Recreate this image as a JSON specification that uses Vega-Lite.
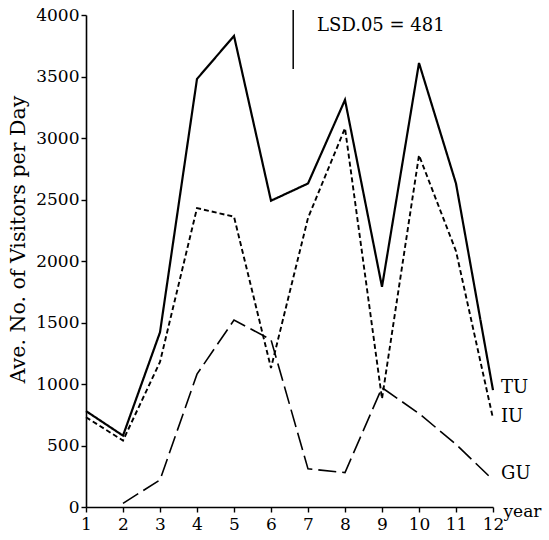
{
  "$schema": "https://vega.github.io/schema/vega-lite/v6.json",
  "width": 407,
  "height": 492,
  "autosize": {"type": "none"},
  "padding": {"left": 86, "top": 15, "right": 56, "bottom": 33},
  "background": "white",
  "config": {
    "view": {"stroke": null},
    "font": "DejaVu Serif",
    "axis": {"grid": false, "domainColor": "black", "tickColor": "black", "labelColor": "black", "titleColor": "black", "domainWidth": 1.6, "tickWidth": 1.4, "labelFont": "DejaVu Serif", "titleFont": "DejaVu Serif", "titleFontWeight": "normal"}
  },
  "datasets": {
    "series": [
      {"year": 1, "series": "TU", "value": 780},
      {"year": 2, "series": "TU", "value": 580},
      {"year": 3, "series": "TU", "value": 1420},
      {"year": 4, "series": "TU", "value": 3480},
      {"year": 5, "series": "TU", "value": 3830},
      {"year": 6, "series": "TU", "value": 2490},
      {"year": 7, "series": "TU", "value": 2630},
      {"year": 8, "series": "TU", "value": 3310},
      {"year": 9, "series": "TU", "value": 1790},
      {"year": 10, "series": "TU", "value": 3610},
      {"year": 11, "series": "TU", "value": 2630},
      {"year": 12, "series": "TU", "value": 950},
      {"year": 1, "series": "IU", "value": 730},
      {"year": 2, "series": "IU", "value": 540},
      {"year": 3, "series": "IU", "value": 1180},
      {"year": 4, "series": "IU", "value": 2430},
      {"year": 5, "series": "IU", "value": 2360},
      {"year": 6, "series": "IU", "value": 1130},
      {"year": 7, "series": "IU", "value": 2350},
      {"year": 8, "series": "IU", "value": 3080},
      {"year": 9, "series": "IU", "value": 880},
      {"year": 10, "series": "IU", "value": 2860},
      {"year": 11, "series": "IU", "value": 2080},
      {"year": 12, "series": "IU", "value": 720},
      {"year": 2, "series": "GU", "value": 30},
      {"year": 3, "series": "GU", "value": 220},
      {"year": 4, "series": "GU", "value": 1080},
      {"year": 5, "series": "GU", "value": 1520},
      {"year": 6, "series": "GU", "value": 1360},
      {"year": 7, "series": "GU", "value": 310},
      {"year": 8, "series": "GU", "value": 280},
      {"year": 9, "series": "GU", "value": 970},
      {"year": 10, "series": "GU", "value": 760},
      {"year": 11, "series": "GU", "value": 510},
      {"year": 12, "series": "GU", "value": 220}
    ],
    "labels": [
      {"year": 12, "value": 965, "text": "TU"},
      {"year": 12, "value": 730, "text": "IU"},
      {"year": 12, "value": 270, "text": "GU"},
      {"year": 7.03, "value": 3910, "text": "LSD.05 = 481"}
    ],
    "lsd": [
      {"year": 6.6, "value": 3560, "value2": 4041}
    ]
  },
  "encoding": {
    "x": {"field": "year", "type": "quantitative", "scale": {"domain": [1, 12], "nice": false},
      "axis": {"values": [1,2,3,4,5,6,7,8,9,10,11,12], "title": "year", "titleFontSize": 17, "titleAngle": 0, "titleX": 417, "titleY": 4, "titleAlign": "left", "titleBaseline": "middle", "labelFontSize": 17, "labelPadding": 4, "tickSize": 5, "labelFlush": false, "labelOverlap": false, "labelBound": false}},
    "y": {"field": "value", "type": "quantitative", "scale": {"domain": [0, 4000], "nice": false},
      "axis": {"values": [0,500,1000,1500,2000,2500,3000,3500,4000], "format": "d", "title": "Ave. No. of Visitors per Day", "titleFontSize": 20.5, "titleAngle": -90, "titleX": -68, "titleY": 224, "titleAlign": "center", "titleBaseline": "middle", "labelFontSize": 17, "tickSize": 5, "labelPadding": 2}}
  },
  "layer": [
    {
      "data": {"name": "series"},
      "mark": {"type": "line", "color": "black"},
      "encoding": {
        "detail": {"field": "series"},
        "strokeDash": {"field": "series", "type": "nominal", "scale": {"domain": ["TU", "IU", "GU"], "range": [[1, 0], [5, 3], [18, 6]]}, "legend": null},
        "strokeWidth": {"field": "series", "type": "nominal", "scale": {"domain": ["TU", "IU", "GU"], "range": [2.2, 1.6, 1.6]}, "legend": null}
      }
    },
    {
      "data": {"name": "lsd"},
      "mark": {"type": "rule", "color": "black", "strokeWidth": 1.5},
      "encoding": {
        "y2": {"field": "value2"}
      }
    },
    {
      "data": {"name": "labels"},
      "mark": {"type": "text", "align": "left", "baseline": "middle", "fontSize": 18, "dx": 8, "color": "black"},
      "encoding": {
        "text": {"field": "text"}
      }
    }
  ]
}
